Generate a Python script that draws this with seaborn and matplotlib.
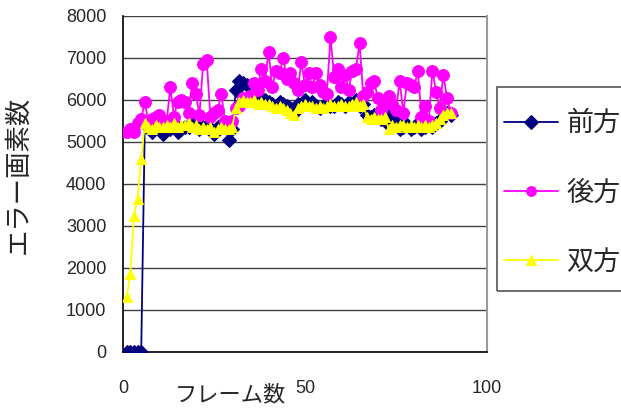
import matplotlib
matplotlib.use("Agg")
import matplotlib.pyplot as plt
from matplotlib.patches import Rectangle
import seaborn as sns
import numpy as np
import pandas as pd

frames = list(range(1, 91))

forward = [0, 0, 0, 0, 0, 5450, 5350, 5250, 5400, 5300,
           5200, 5350, 5300, 5450, 5250, 5300, 5350, 5350, 5450, 5400,
           5300, 5350, 5400, 5300, 5200, 5350, 5400, 5400, 5050, 5300,
           6250, 6450, 6400, 6350, 6000, 6050, 5950, 6050, 6000, 5950,
           5900, 5850, 5950, 5900, 5850, 5800, 5700, 5900, 5850, 6000,
           5900, 5950, 5850, 5800, 5850, 5900, 5850, 5850, 5950, 5900,
           5850, 5950, 5900, 6000, 5850, 5900, 5650, 5600, 5650, 5600,
           5550, 5700, 5400, 5650, 5500, 5300, 5350, 5400, 5300, 5350,
           5450, 5300, 5350, 5450, 5350, 5450, 5500, 5600, 5700, 5650]

backward = [5250, 5300, 5250, 5450, 5550, 5950, 5450, 5550, 5600, 5650,
            5450, 5500, 6300, 5600, 5950, 6000, 5950, 5700, 6400, 6150,
            5650, 6850, 6950, 5600, 5700, 5750, 6150, 5500, 5350, 5500,
            5800, 5850, 6050, 6000, 6100, 6400, 6250, 6750, 6450, 7150,
            6300, 6700, 6650, 7000, 6500, 6650, 6400, 6250, 6900, 6350,
            6650, 6300, 6650, 6350, 6200, 6150, 7500, 6550, 6750, 6300,
            6600, 6250, 6700, 6750, 7350, 6100, 6200, 6400, 6450, 6050,
            5750, 5900, 6100, 5900, 5750, 6450, 5700, 6400, 6350, 6300,
            6700, 5600, 5850, 5500, 6700, 6200, 5800, 6600, 6050, 5700]

both = [1300, 1850, 3250, 3650, 4600, 5450, 5350, 5300, 5400, 5350,
        5350, 5400, 5350, 5450, 5350, 5400, 5400, 5450, 5350, 5400,
        5300, 5350, 5300, 5350, 5250, 5300, 5350, 5300, 5300, 5350,
        5800, 5950, 6000, 5950, 5950, 6000, 5900, 5950, 5900, 5900,
        5850, 5800, 5850, 5800, 5750, 5700, 5650, 5800, 5850, 5900,
        5850, 5850, 5800, 5850, 5800, 5850, 5900, 5850, 5850, 5900,
        5850, 5850, 5900, 5950, 5850, 5900, 5600, 5550, 5600, 5550,
        5550, 5600, 5300, 5400, 5350, 5400, 5400, 5350, 5400, 5350,
        5400, 5350, 5400, 5350, 5400, 5450, 5550, 5650, 5700, 5700]

series_names = ["前方", "後方", "双方"]
x_ticks = [0, 50, 100]
y_ticks = [0, 1000, 2000, 3000, 4000, 5000, 6000, 7000, 8000]

sns.set_style("white")
plt.rcParams['font.family'] = ['Liberation Sans', 'Noto Sans CJK JP', 'DejaVu Sans']

fig = plt.figure(figsize=(6.21, 4.12), dpi=100)
ax = fig.add_axes([123/621, 1 - 352/412, (487 - 123)/621, (352 - 16)/412])

styles = [
    dict(color="#000080", marker="D", markersize=7, mec="#000080", mfc="#000080"),
    dict(color="#FF00FF", marker="o", markersize=8.5, mec="#FF00FF", mfc="#FF00FF"),
    dict(color="#FFFF00", marker="^", markersize=7, mec="#FFFF00", mfc="#FFFF00"),
]
for name, vals, st in zip(series_names, [forward, backward, both], styles):
    df = pd.DataFrame({"frame": frames, "value": vals})
    sns.lineplot(data=df, x="frame", y="value", ax=ax, label=name,
                 color=st["color"], marker=st["marker"], markersize=st["markersize"],
                 markeredgecolor=st["mec"], markerfacecolor=st["mfc"],
                 linewidth=1.3, zorder=3)

ax.set_xlim(0, 100)
ax.set_ylim(0, 8000)
ax.set_xticks(x_ticks)
ax.set_yticks(y_ticks)
ax.set_yticklabels([str(v) for v in y_ticks], fontsize=13)
ax.set_xticklabels([str(v) for v in x_ticks], fontsize=13)
ax.tick_params(axis='x', direction='in', length=5, pad=20, color='black')
ax.tick_params(axis='y', direction='in', length=5, pad=12, color='black')
ax.yaxis.grid(True, color='#404040', linewidth=1)
ax.xaxis.grid(False)
for s in ['left', 'bottom']:
    ax.spines[s].set_color('black')
    ax.spines[s].set_linewidth(1.2)
ax.spines['top'].set_visible(False)
ax.spines['right'].set_color('#9a9a9a')
ax.spines['right'].set_linewidth(1.5)
ax.set_xlabel("")
ax.set_ylabel("")

fig.text(230/621, 1 - 396/412, "フレーム数", fontsize=16, ha='center', va='center')
fig.text(18/621, 1 - 175/412, "エラー画素数", fontsize=19, ha='center', va='center', rotation=90)

# legend frame
fig.patches.append(Rectangle((497/621, 1 - 291/412), 0.4, (291 - 87)/412,
                             transform=fig.transFigure, fill=False,
                             edgecolor='#555555', linewidth=1.2))

leg = ax.legend(loc='upper left', bbox_to_anchor=(504/621, 1 - 111/412),
                bbox_transform=fig.transFigure, fontsize=19.5, frameon=False,
                borderpad=0, labelspacing=1.6, handlelength=2.0,
                handletextpad=0.3, borderaxespad=0)
for h in leg.legend_handles:
    h.set_markersize(7)

fig.savefig("out.png", dpi=100)
